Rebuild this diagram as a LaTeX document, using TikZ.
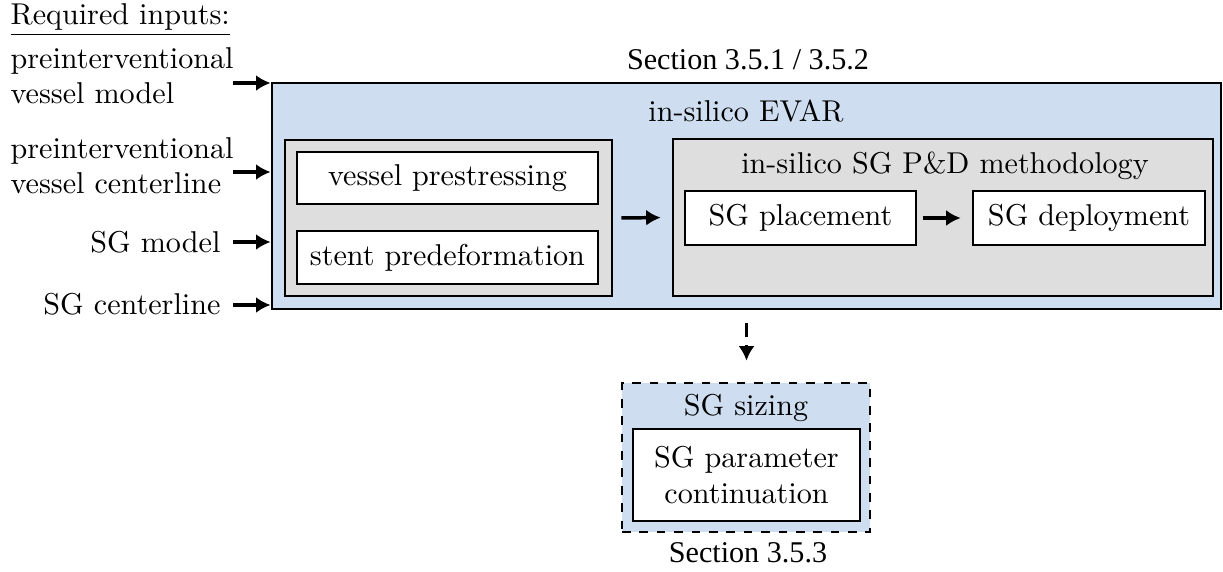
\documentclass[tikz,border=0pt]{standalone}
\usepackage{fontspec}
\newfontfamily\secfont{Liberation Serif}
\usetikzlibrary{arrows.meta}
\definecolor{evarblue}{RGB}{206,222,240}
\definecolor{boxgray}{RGB}{222,222,222}
\tikzset{
  outer/.style={draw, line width=1pt, fill=evarblue, rectangle},
  group/.style={draw, line width=0.9pt, fill=boxgray, rectangle},
  stepbox/.style={draw, line width=0.9pt, fill=white, rectangle, align=center},
  input/.style={align=left, inner sep=0pt},
  arr/.style={-{Latex[length=5pt,width=5.5pt]}, line width=1.2pt},
}
\begin{document}
\begin{tikzpicture}[x=0.345pt, y=-0.345pt, font=\fontsize{10.4}{12.2}\selectfont]
\useasboundingbox (0,0) rectangle (1223,571);

\node[outer, minimum width=949*0.345pt, minimum height=226*0.345pt] (main) at (746.5,196) {};
\node[group, minimum width=327*0.345pt, minimum height=156*0.345pt] (leftgrp) at (448.5,218) {};
\node[group, minimum width=540*0.345pt, minimum height=157*0.345pt] (rightgrp) at (943,217.5) {};

\node[stepbox, minimum width=301*0.345pt, minimum height=52*0.345pt] (prestr) at (447.5,178) {vessel prestressing};
\node[stepbox, minimum width=301*0.345pt, minimum height=53*0.345pt] (predef) at (447.5,257.5) {stent predeformation};
\node[stepbox, minimum width=231*0.345pt, minimum height=54*0.345pt] (place) at (800.5,218) {SG placement};
\node[stepbox, minimum width=232*0.345pt, minimum height=54*0.345pt] (deploy) at (1089,218) {SG deployment};

\node (evar) at (746,111) {in-silico EVAR};
\node (pd) at (945,166) {in-silico SG P\&D methodology};
\node (sec1) at (748,60) {\secfont Section 3.5.1 / 3.5.2};

\node[outer, dashed, minimum width=248*0.345pt, minimum height=149*0.345pt] (sizing) at (746,457.5) {};
\node[stepbox, minimum width=227*0.345pt, minimum height=92*0.345pt] (param) at (746.5,475) {SG parameter\\continuation};
\node (sizinglbl) at (746,408) {SG sizing};
\node (sec2) at (748,553) {\secfont Section 3.5.3};

% inputs
\node[anchor=west, inner sep=0pt] (req) at (10,20) {\underline{Required inputs:}};
\node[input, anchor=west] (in1lbl) at (10,76) {preinterventional\\vessel model};
\node[input, anchor=west] (in2lbl) at (10,166) {preinterventional\\vessel centerline};
\node[input, anchor=east] (in3lbl) at (221,242) {SG model};
\node[input, anchor=east] (in4lbl) at (221,304) {SG centerline};

\coordinate (in1) at (233,83);
\coordinate (in2) at (233,172);
\coordinate (in3) at (233,242);
\coordinate (in4) at (233,305);

\draw[arr] (in1) -- (in1 -| main.west);
\draw[arr] (in2) -- (in2 -| main.west);
\draw[arr] (in3) -- (in3 -| main.west);
\draw[arr] (in4) -- (in4 -| main.west);

\draw[arr, shorten <=2.8pt, shorten >=3.8pt] (leftgrp.east) -- (rightgrp.west);
\draw[arr, shorten <=2pt, shorten >=3.8pt] (place.east) -- (deploy.west);
\draw[arr, dash pattern=on 4.5pt off 3pt, shorten <=4.5pt, shorten >=7.2pt] (main.south) -- (main.south |- sizing.north);
\end{tikzpicture}
\end{document}
